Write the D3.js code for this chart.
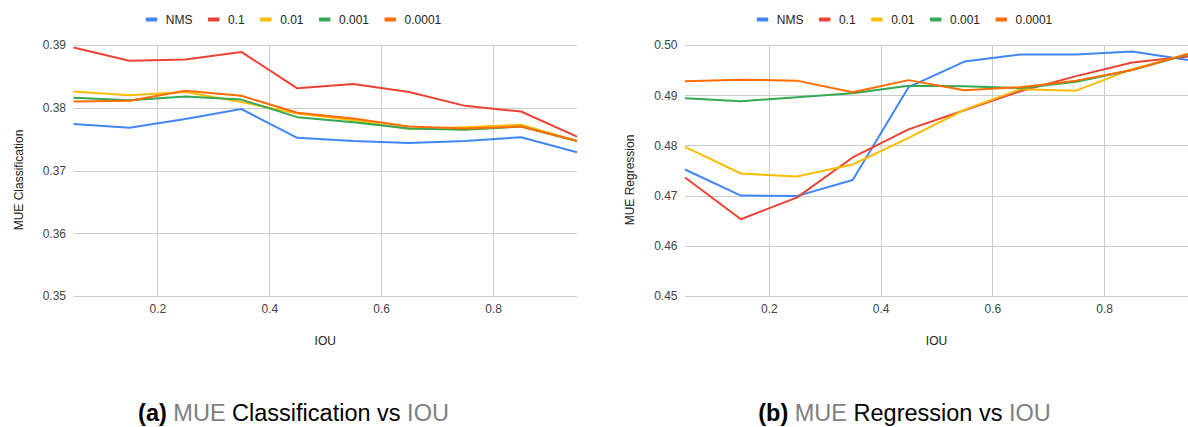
<!DOCTYPE html>
<html>
<head>
<meta charset="utf-8">
<script src="https://cdn.jsdelivr.net/npm/d3@7"></script>
<style>
  body { margin: 0; background: #fff; }
  svg { display: block; font-family: 'Liberation Sans', Arial, sans-serif; }
</style>
</head>
<body>
<div id="figure"></div>
<script>
// x values (IOU threshold)
let iou = [0.05, 0.15, 0.25, 0.35, 0.45, 0.55, 0.65, 0.75, 0.85, 0.95];
let seriesNames = ['NMS', '0.1', '0.01', '0.001', '0.0001'];
let colors = ['#4285f4', '#ea4335', '#fbbc04', '#34a853', '#ff6d01'];

// (a) MUE Classification
let clsNMS   = [0.3774, 0.3768, 0.3782, 0.3798, 0.3752, 0.3747, 0.3744, 0.3747, 0.3753, 0.3729];
let cls01    = [0.3896, 0.3875, 0.3877, 0.3889, 0.3831, 0.3838, 0.3825, 0.3803, 0.3794, 0.3754];
let cls001   = [0.3826, 0.3820, 0.3825, 0.3809, 0.3791, 0.3780, 0.3766, 0.3769, 0.3773, 0.3747];
let cls0001  = [0.3816, 0.3812, 0.3818, 0.3813, 0.3785, 0.3777, 0.3767, 0.3765, 0.3770, 0.3747];
let cls00001 = [0.3810, 0.3811, 0.3827, 0.3819, 0.3792, 0.3783, 0.3770, 0.3767, 0.3770, 0.3747];

// (b) MUE Regression
let regNMS   = [0.4752, 0.4700, 0.4699, 0.4731, 0.4916, 0.4967, 0.4981, 0.4981, 0.4987, 0.4970];
let reg01    = [0.4736, 0.4653, 0.4696, 0.4776, 0.4832, 0.4870, 0.4908, 0.4938, 0.4965, 0.4977];
let reg001   = [0.4797, 0.4744, 0.4738, 0.4762, 0.4815, 0.4871, 0.4912, 0.4909, 0.4952, 0.4982];
let reg0001  = [0.4894, 0.4888, 0.4896, 0.4904, 0.4919, 0.4918, 0.4914, 0.4927, 0.4950, 0.4981];
let reg00001 = [0.4928, 0.4931, 0.4929, 0.4906, 0.4930, 0.4910, 0.4916, 0.4929, 0.4950, 0.4982];

let xTicks = [0.2, 0.4, 0.6, 0.8];
let clsTicks = [0.35, 0.36, 0.37, 0.38, 0.39];
let regTicks = [0.45, 0.46, 0.47, 0.48, 0.49, 0.50];

let W = 1188, H = 427;
let plotTop = 45, plotBottom = 296;

let svg = d3.select('#figure')
    .append('svg')
    .attr('width', W)
    .attr('height', H);

function drawChart(opts) {
    let g = svg.append('g');

    let x = d3.scaleLinear()
        .domain([iou[0], iou[iou.length - 1]])
        .range([opts.left, opts.right]);
    let y = d3.scaleLinear()
        .domain(opts.yDomain)
        .range([plotBottom, plotTop]);

    // gridlines
    g.append('g')
        .selectAll('line')
        .data(opts.yTicks)
        .enter()
        .append('line')
            .attr('x1', opts.left)
            .attr('x2', opts.right)
            .attr('y1', d => Math.round(y(d)) + 0.5)
            .attr('y2', d => Math.round(y(d)) + 0.5)
            .attr('stroke', '#cccccc')
            .attr('stroke-width', 1);
    g.append('g')
        .selectAll('line')
        .data(xTicks)
        .enter()
        .append('line')
            .attr('x1', d => Math.round(x(d)) + 0.5)
            .attr('x2', d => Math.round(x(d)) + 0.5)
            .attr('y1', plotTop)
            .attr('y2', plotBottom)
            .attr('stroke', '#cccccc')
            .attr('stroke-width', 1);

    // axes (labels only, no domain line)
    let yAxis = g.append('g')
        .attr('transform', `translate(${opts.left - 7.5}, 0)`)
        .call(d3.axisLeft(y).tickValues(opts.yTicks).tickFormat(d3.format('.2f')).tickSize(0).tickPadding(0));
    let xAxis = g.append('g')
        .attr('transform', `translate(0, ${plotBottom + 8})`)
        .call(d3.axisBottom(x).tickValues(xTicks).tickFormat(d3.format('.1f')).tickSize(0).tickPadding(0));
    [yAxis, xAxis].forEach(a => {
        a.select('.domain').remove();
        a.selectAll('text')
            .attr('fill', '#444')
            .style('font-size', '12px')
            .style('font-family', "'Liberation Sans', Arial, sans-serif");
    });

    // axis titles
    g.append('text')
        .attr('transform', `translate(${opts.left - 55}, 180) rotate(-90)`)
        .attr('text-anchor', 'middle')
        .attr('dy', '0.35em')
        .style('font-size', '12px')
        .attr('fill', '#222')
        .text(opts.yTitle);
    g.append('text')
        .attr('x', (opts.left + opts.right) / 2)
        .attr('y', 341)
        .attr('text-anchor', 'middle')
        .attr('dy', '0.35em')
        .style('font-size', '12px')
        .attr('fill', '#222')
        .text('IOU');

    // lines
    let line = d3.line()
        .x((d, i) => x(iou[i]))
        .y(d => y(d));
    g.append('g')
        .selectAll('path')
        .data(opts.series)
        .enter()
        .append('path')
            .attr('d', d => line(d))
            .attr('fill', 'none')
            .attr('stroke', (d, i) => colors[i])
            .attr('stroke-width', 2)
            .attr('stroke-linejoin', 'round');

    // legend
    let legend = g.append('g');
    let pos = 0;
    seriesNames.forEach((name, i) => {
        let item = legend.append('g').attr('transform', `translate(${pos}, 0)`);
        item.append('rect')
            .attr('x', 0)
            .attr('y', 17.5)
            .attr('width', 11.5)
            .attr('height', 4)
            .attr('rx', 1)
            .attr('fill', colors[i]);
        let t = item.append('text')
            .attr('x', 20)
            .attr('y', 19.5)
            .attr('dy', '0.35em')
            .style('font-size', '12px')
            .attr('fill', '#222')
            .text(name);
        pos += 20 + t.node().getComputedTextLength() + (i < seriesNames.length - 1 ? 15.5 : 0);
    });
    legend.attr('transform', `translate(${opts.center - pos / 2}, 0)`);

    // caption
    let cap = g.append('text')
        .attr('x', opts.center)
        .attr('y', 421)
        .attr('text-anchor', 'middle')
        .style('font-size', '23.5px')
        .attr('fill', '#000');
    cap.append('tspan').style('font-weight', 'bold').text(opts.tag + ' ');
    cap.append('tspan').attr('fill', '#7f7f7f').text('MUE');
    cap.append('tspan').text(' ' + opts.capMid + ' vs ');
    cap.append('tspan').attr('fill', '#7f7f7f').text('IOU');
}

drawChart({
    left: 73.5, right: 577, center: 293.5,
    yDomain: [0.35, 0.39], yTicks: clsTicks,
    yTitle: 'MUE Classification',
    series: [clsNMS, cls01, cls001, cls0001, cls00001],
    tag: '(a)', capMid: 'Classification'
});

drawChart({
    left: 685, right: 1188, center: 904.5,
    yDomain: [0.45, 0.50], yTicks: regTicks,
    yTitle: 'MUE Regression',
    series: [regNMS, reg01, reg001, reg0001, reg00001],
    tag: '(b)', capMid: 'Regression'
});
</script>
</body>
</html>
